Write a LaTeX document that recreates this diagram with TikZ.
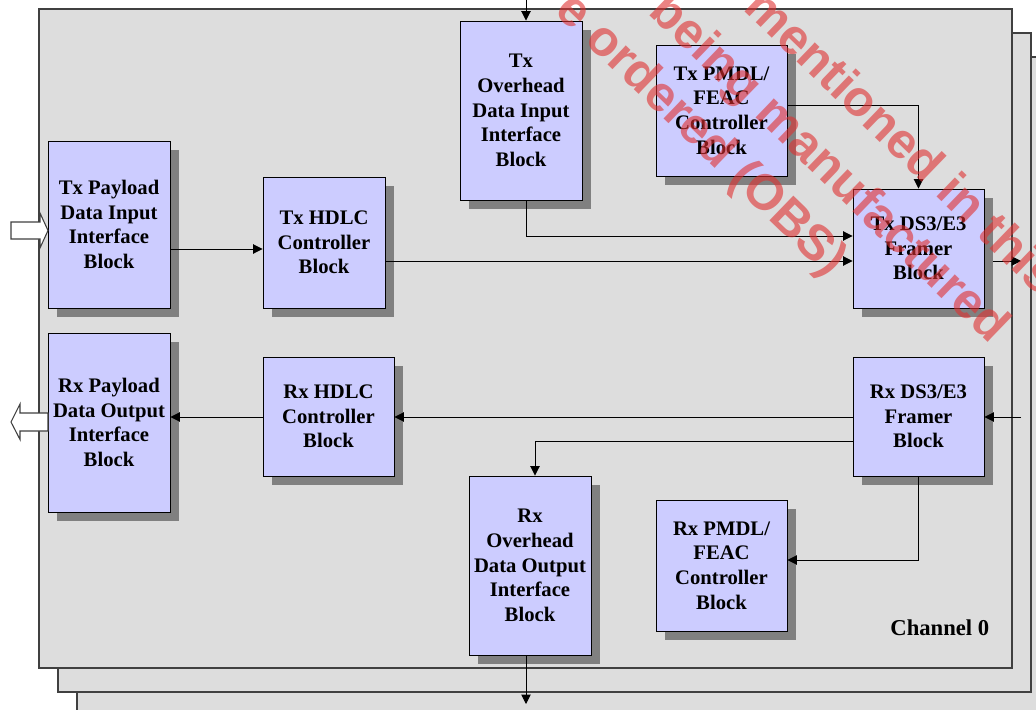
\documentclass[tikz,border=0pt]{standalone}
\usepackage{fontspec}
\setmainfont{Liberation Serif}
\newfontfamily\wmfont{Liberation Sans}
\usepackage{tikz}
\usetikzlibrary{positioning,shadows,calc}
\usetikzlibrary{arrows.meta}

\definecolor{blkfill}{HTML}{CCCCFF}
\definecolor{panelfill}{HTML}{DDDDDD}
\definecolor{shadegray}{HTML}{808080}
\definecolor{edgegray}{HTML}{404040}
\definecolor{wmred}{HTML}{E03030}

\tikzset{
  panel/.style={draw=edgegray, line width=1pt, fill=panelfill},
  blk/.style={draw=black, line width=0.7pt, fill=blkfill, inner sep=0pt, align=center,
    font=\bfseries\fontsize{15.5}{18.5}\selectfont,
    drop shadow={shadow xshift=6.4pt, shadow yshift=-6.6pt, fill=shadegray, opacity=1}},
  % corners in pixels: x1, y1, x2, y2
  box/.style n args={4}{minimum width={(#3-#1)*0.75pt}, minimum height={(#4-#2)*0.75pt},
    at={({(#1+#3)/2},{(#2+#4)/2})}},
  arr/.style={line width=0.7pt, -{Triangle[length=7pt,width=7pt]}},
  hollow/.style={draw=edgegray, line width=0.8pt, fill=white},
  wm/.style={text=wmred, opacity=0.6, font=\wmfont\bfseries\fontsize{37.5}{46}\selectfont,
    inner sep=0pt, rotate=-44, anchor=base west}
}

\begin{document}
\begin{tikzpicture}[x=0.75pt,y=-0.75pt]
\useasboundingbox (0,0) rectangle (1036,710);
\clip (0,0) rectangle (1036,710);

% stacked channels
\foreach \d in {2,1,0}
  \draw[panel] ({39+19*\d},{9+24*\d}) rectangle ({1012+19*\d},{668+24*\d});

% blocks
\node[blk, box={48}{141}{170}{308}] (txpay) {Tx Payload\\Data Input\\Interface\\Block};
\node[blk, box={48}{333}{170}{512}] (rxpay) {Rx Payload\\Data Output\\Interface\\Block};
\node[blk, box={263}{177}{385}{308}] (txhdlc) {Tx HDLC\\Controller\\Block};
\node[blk, box={263}{357}{394}{476}] (rxhdlc) {Rx HDLC\\Controller\\Block};
\node[blk, box={460}{21}{582}{200}] (txoh) {Tx\\Overhead\\Data Input\\Interface\\Block};
\node[blk, box={469}{476}{591}{655}] (rxoh) {Rx\\Overhead\\Data Output\\Interface\\Block};
\node[blk, box={656}{45}{787}{176}] (txpmdl) {Tx PMDL/\\FEAC\\Controller\\Block};
\node[blk, box={656}{500}{787}{631}] (rxpmdl) {Rx PMDL/\\FEAC\\Controller\\Block};
\node[blk, box={853}{189}{984}{308}] (txfr) {Tx DS3/E3\\Framer\\Block};
\node[blk, box={853}{357}{984}{476}] (rxfr) {Rx DS3/E3\\Framer\\Block};

\node[font=\bfseries\fontsize{17}{20}\selectfont, anchor=east] (chan) at (994,628) {Channel 0};

% rows and free ends
\coordinate (pmdlrow) at (0,105);
\coordinate (ohrow) at (0,236);
\coordinate (payrow) at (0,249);
\coordinate (hdlcrow) at (0,261);
\coordinate (rxohin) at (535,441);
\coordinate (pmdlin) at (0,560);
\coordinate (topin) at (526,0);
\coordinate (botout) at (526,704);
\coordinate (txout) at (1021,261);
\coordinate (rxin) at (1021,417);

% transmit side
\draw[arr] (topin) -- (txoh.north -| topin);
\draw[arr] (txpay.east |- payrow) -- (txhdlc.west |- payrow);
\draw[arr] (txhdlc.east |- hdlcrow) -- (txfr.west |- hdlcrow);
\draw[arr] (txoh.south -| topin) |- (txfr.west |- ohrow);
\draw[arr] (txpmdl.east |- pmdlrow) -| (txfr.north);
\draw[arr] ($(txfr.east |- txout)+(8.5,0)$) -- (txout);

% receive side
\draw[arr] (rxin) -- (rxfr.east |- rxin);
\draw[arr] (rxfr.west |- rxin) -- (rxhdlc.east |- rxin);
\draw[arr] (rxhdlc.west |- rxin) -- (rxpay.east |- rxin);
\draw[arr] (rxfr.west |- rxohin) -| (rxoh.north -| rxohin);
\draw[arr] (rxfr.south) |- (rxpmdl.east |- pmdlin);
\draw[arr] (rxoh.south -| botout) -- (botout);

% payload in / out
\draw[hollow] (11,222) -- (40,222) -- (40,213) -- (48,230.5) -- (40,248) -- (40,239) -- (11,239) -- cycle;
\draw[hollow] (48,413) -- (20,413) -- (20,404) -- (11,422) -- (20,439.5) -- (20,431) -- (48,431) -- cycle;

% watermark
\node[wm] at (553,12) {e ordered (OBS)};
\node[wm] at (647,13) {being manufactured};
\node[wm] at (742,9) {mentioned in this};
\end{tikzpicture}
\end{document}
